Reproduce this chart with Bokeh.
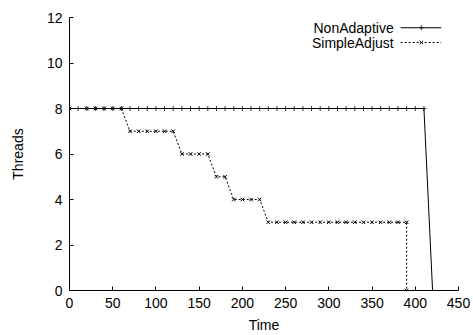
from bokeh.plotting import figure
from bokeh.models import Range1d, FixedTicker, Label
from bokeh.embed import file_html
from bokeh.resources import INLINE

# Thread count over time for the two scheduling policies
non_adaptive_time = [0, 10, 20, 30, 40, 50, 60, 70, 80, 90, 100, 110, 120, 130, 140, 150,
                     160, 170, 180, 190, 200, 210, 220, 230, 240, 250, 260, 270, 280, 290,
                     300, 310, 320, 330, 340, 350, 360, 370, 380, 390, 400, 410, 420]
non_adaptive_threads = [8] * 42 + [0]

simple_adjust_time = [0, 20, 30, 40, 50, 60,
                      70, 80, 90, 100, 110, 120,
                      130, 140, 150, 160,
                      170, 180,
                      190, 200, 210, 220,
                      230, 240, 250, 260, 270, 280, 290, 300, 310, 320, 330, 340, 350,
                      360, 370, 380, 390, 390]
simple_adjust_threads = [8] * 6 + [7] * 6 + [6] * 4 + [5] * 2 + [4] * 4 + [3] * 17 + [0]

x_ticks = [0, 50, 100, 150, 200, 250, 300, 350, 400, 450]
y_ticks = [0, 2, 4, 6, 8, 10, 12]

FONT = "Liberation Sans"
SIZE = "14px"

p = figure(width=473, height=335, output_backend="svg", toolbar_location=None,
           x_range=Range1d(0, 450), y_range=Range1d(0, 12),
           min_border_left=69, min_border_right=15, min_border_top=17, min_border_bottom=44)
p.outline_line_color = None
p.xgrid.visible = False
p.ygrid.visible = False
p.background_fill_color = "white"

for ax, ticks in ((p.xaxis[0], x_ticks), (p.yaxis[0], y_ticks)):
    ax.ticker = FixedTicker(ticks=ticks)
    ax.major_tick_in = 4
    ax.major_tick_out = 0
    ax.minor_tick_line_color = None
    ax.axis_line_color = "black"
    ax.major_tick_line_color = "black"
    ax.major_label_text_font = FONT
    ax.major_label_text_font_size = SIZE
    ax.major_label_text_color = "black"
    ax.axis_label_text_font = FONT
    ax.axis_label_text_font_size = SIZE
    ax.axis_label_text_font_style = "normal"
    ax.axis_label_text_color = "black"

p.xaxis.axis_label = "Time"
p.yaxis.axis_label = "Threads"
p.xaxis.major_label_standoff = 7
p.xaxis.axis_label_standoff = 6
p.yaxis.major_label_standoff = 7
p.yaxis.axis_label_standoff = 18

# Series
p.line(non_adaptive_time, non_adaptive_threads, line_color="black", line_width=1)
p.scatter(non_adaptive_time, non_adaptive_threads, marker="cross", size=5,
          line_color="black", line_width=0.8)

p.line(simple_adjust_time, simple_adjust_threads, line_color="black", line_width=1,
       line_dash="2 2")
p.scatter(simple_adjust_time, simple_adjust_threads, marker="x", size=5,
          line_color="black", line_width=1)

# Key in the upper right: label, then a line sample with its marker
key_rows = [("NonAdaptive", 11.55, None), ("SimpleAdjust", 10.9, "2 2")]
for name, yk, dash in key_rows:
    p.add_layout(Label(x=375, y=yk, text=name, text_align="right", text_baseline="middle",
                       text_font=FONT, text_font_size=SIZE, text_color="black"))
    kw = dict(line_color="black", line_width=1)
    if dash:
        kw["line_dash"] = dash
    p.line([383, 430], [yk, yk], **kw)
    p.scatter([407], [yk], marker="cross" if dash is None else "x", size=5,
              line_color="black", line_width=0.8 if dash is None else 1)

open("out.html", "w").write(file_html(p, INLINE))
